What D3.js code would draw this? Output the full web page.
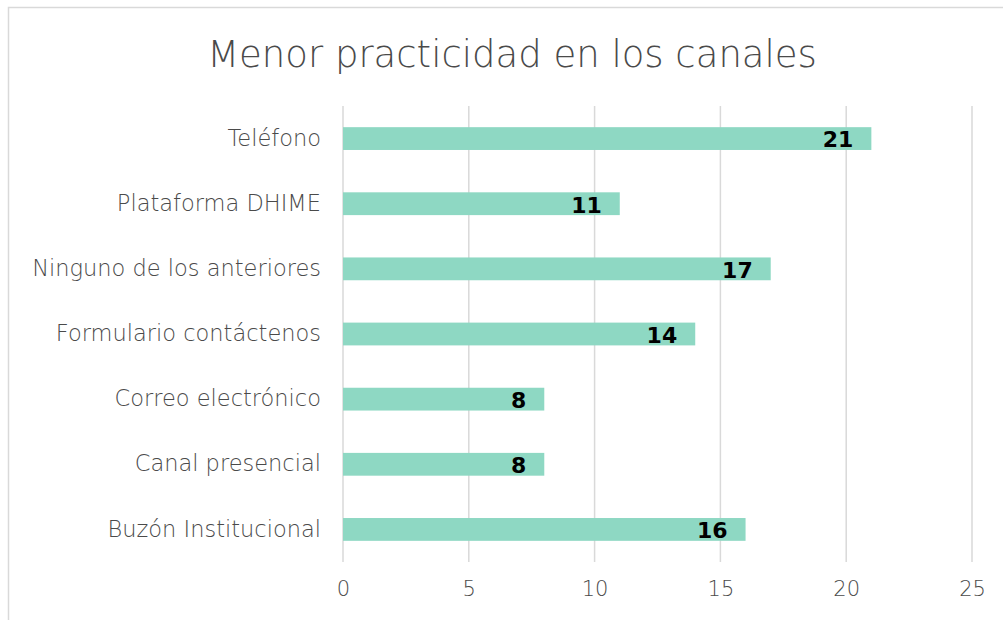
<!DOCTYPE html>
<html>
<head>
<meta charset="utf-8">
<script src="https://cdn.jsdelivr.net/npm/d3@7"></script>
<style>
  body { margin: 0; background: #fff; }
  text { font-family: "DejaVu Sans", sans-serif; }
</style>
</head>
<body>
<div id="chart"></div>
<script>
// data
var categories = ["Teléfono", "Plataforma DHIME", "Ninguno de los anteriores",
  "Formulario contáctenos", "Correo electrónico", "Canal presencial", "Buzón Institucional"];
var values = [21, 11, 17, 14, 8, 8, 16];
var xTicks = [0, 5, 10, 15, 20, 25];

var svgWidth = 1003;
var svgHeight = 620;

var svg = d3.select("#chart")
  .append("svg")
  .attr("width", svgWidth)
  .attr("height", svgHeight);

// chart border
svg.append("rect")
  .attr("x", 8.5).attr("y", 7.5)
  .attr("width", 1010).attr("height", 640)
  .attr("fill", "#fff")
  .attr("stroke", "#d9d9d9")
  .attr("stroke-width", 1.5);

var x = d3.scaleLinear().domain([0, 25]).range([343, 972]);
var y = d3.scaleBand().domain(categories).range([106, 562]).paddingInner(0.65).paddingOuter(0.325);

// gridlines
svg.append("g")
  .selectAll("line")
  .data(xTicks)
  .enter().append("line")
  .attr("x1", d => x(d)).attr("x2", d => x(d))
  .attr("y1", 106).attr("y2", 562)
  .attr("stroke", "#d9d9d9")
  .attr("stroke-width", 1.5);

// bars
svg.append("g")
  .selectAll("rect")
  .data(values)
  .enter().append("rect")
  .attr("x", x(0))
  .attr("y", (d, i) => y(categories[i]))
  .attr("width", d => x(d) - x(0))
  .attr("height", y.bandwidth())
  .attr("fill", "#8ed8c3");

// value labels
svg.append("g")
  .selectAll("text")
  .data(values)
  .enter().append("text")
  .attr("x", d => x(d) - 18)
  .attr("y", (d, i) => y(categories[i]) + y.bandwidth() / 2)
  .attr("dy", "0.4em")
  .attr("text-anchor", "end")
  .attr("font-size", "22px")
  .attr("font-family", "Lato, sans-serif")
  .attr("font-weight", "bold")
  .attr("fill", "#000")
  .text(d => d);

// category axis
var yAxis = d3.axisLeft(y).tickSize(0).tickPadding(22);
var gy = svg.append("g")
  .attr("transform", "translate(" + x(0) + ",0)")
  .call(yAxis);
gy.select(".domain").remove();
gy.selectAll("text")
  .attr("font-size", "22.5px")
  .attr("font-family", "DejaVu Sans, sans-serif")
  .attr("font-weight", 200)
  .attr("fill", "#4a4a4a");

// value axis
var xAxis = d3.axisBottom(x).tickValues(xTicks).tickSize(0).tickPadding(19);
var gx = svg.append("g")
  .attr("transform", "translate(0,562)")
  .call(xAxis);
gx.select(".domain").remove();
gx.selectAll("text")
  .attr("font-size", "21px")
  .attr("font-family", "DejaVu Sans, sans-serif")
  .attr("font-weight", 200)
  .attr("fill", "#4a4a4a");

// title
svg.append("text")
  .attr("x", 512)
  .attr("y", 67)
  .attr("text-anchor", "middle")
  .attr("font-size", "37px")
  .attr("font-family", "DejaVu Sans, sans-serif")
  .attr("font-weight", 200)
  .attr("fill", "#4a4a4a")
  .text("Menor practicidad en los canales");
</script>
</body>
</html>
